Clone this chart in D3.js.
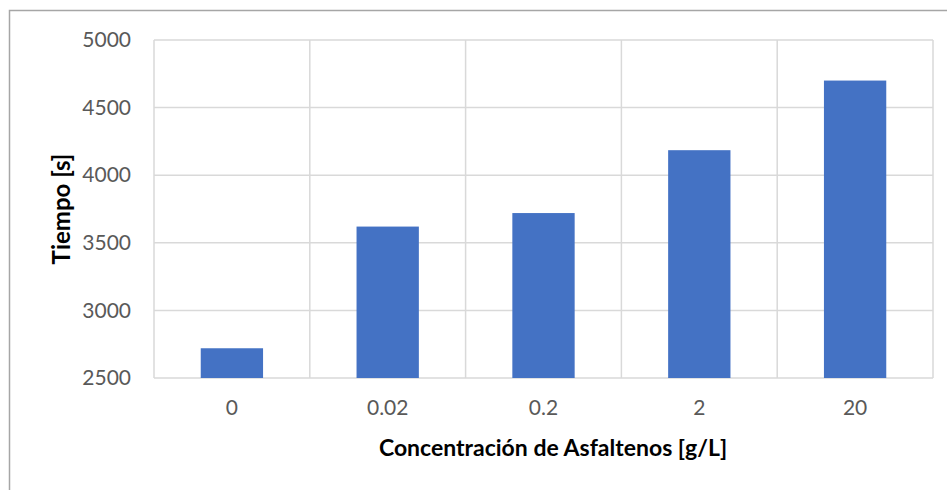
<!DOCTYPE html>
<html>
<head>
<meta charset="utf-8">
<script src="https://cdn.jsdelivr.net/npm/d3@7"></script>
<style>
  body { margin: 0; background: #fff; }
  text { font-family: Lato, "Open Sans", sans-serif; }
</style>
</head>
<body>
<div id="chart"></div>
<script>
// values
var categories = ["0", "0.02", "0.2", "2", "20"];
var tiempo = [2720, 3620, 3720, 4185, 4700];
var yTicks = [2500, 3000, 3500, 4000, 4500, 5000];

var svgwidth = 947, svgheight = 490;
var margin = {top: 40, right: 14, bottom: 112, left: 154},
    width = svgwidth - margin.left - margin.right,
    height = svgheight - margin.top - margin.bottom;

var data = categories.map(function(c, i) { return {cat: c, val: tiempo[i]}; });

var svg = d3.select("#chart").append("svg")
    .attr("width", svgwidth)
    .attr("height", svgheight);

// chart area border (runs off the right/bottom edge)
svg.append("rect")
    .attr("x", 9.5).attr("y", 10.5)
    .attr("width", 960).attr("height", 520)
    .attr("fill", "none")
    .attr("stroke", "#a6a6a6")
    .attr("stroke-width", 1.5);

var g = svg.append("g")
    .attr("transform", "translate(" + margin.left + "," + margin.top + ")");

var x = d3.scaleBand()
    .domain(categories)
    .range([0, width])
    .padding(0);

var y = d3.scaleLinear()
    .domain([2500, 5000])
    .range([height, 0]);

// horizontal grid
g.append("g")
    .selectAll("line")
    .data(yTicks)
  .enter().append("line")
    .attr("x1", 0).attr("x2", width)
    .attr("y1", function(d) { return y(d); })
    .attr("y2", function(d) { return y(d); })
    .attr("stroke", "#d9d9d9")
    .attr("stroke-width", 1.5);

// vertical grid at category boundaries
var bounds = categories.map(function(c) { return x(c); }).concat([width]);
g.append("g")
    .selectAll("line")
    .data(bounds)
  .enter().append("line")
    .attr("x1", function(d) { return d; })
    .attr("x2", function(d) { return d; })
    .attr("y1", 0).attr("y2", height)
    .attr("stroke", "#d9d9d9")
    .attr("stroke-width", 1.5);

// bars, gap width 150%
var barW = x.bandwidth() * 0.4;
g.selectAll(".bar")
    .data(data)
  .enter().append("rect")
    .attr("class", "bar")
    .attr("x", function(d) { return x(d.cat) + (x.bandwidth() - barW) / 2; })
    .attr("width", barW)
    .attr("y", function(d) { return y(d.val); })
    .attr("height", function(d) { return height - y(d.val); })
    .attr("fill", "#4472c4");

// axes
var yAxis = d3.axisLeft(y).tickValues(yTicks).tickFormat(d3.format("d"))
    .tickSize(0).tickPadding(23);
g.append("g")
    .attr("class", "y axis")
    .call(yAxis)
    .call(function(s) { s.select(".domain").remove(); })
  .selectAll("text")
    .attr("fill", "#595959")
    .style("font-size", "21px");

var xAxis = d3.axisBottom(x).tickSize(0).tickPadding(22);
g.append("g")
    .attr("class", "x axis")
    .attr("transform", "translate(0," + height + ")")
    .call(xAxis)
    .call(function(s) { s.select(".domain").remove(); })
  .selectAll("text")
    .attr("fill", "#595959")
    .style("font-size", "21px");

// axis titles
svg.append("text")
    .attr("x", 553)
    .attr("y", 456)
    .attr("text-anchor", "middle")
    .style("font-size", "23px")
    .style("font-weight", "bold")
    .attr("fill", "#000")
    .text("Concentración de Asfaltenos [g/L]");

svg.append("text")
    .attr("transform", "translate(70," + (margin.top + height / 2) + ") rotate(-90)")
    .attr("text-anchor", "middle")
    .style("font-size", "24px")
    .style("font-weight", "bold")
    .attr("fill", "#000")
    .text("Tiempo [s]");
</script>
</body>
</html>
